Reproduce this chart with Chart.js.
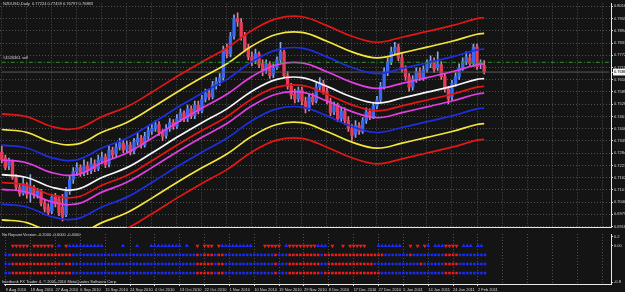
<!DOCTYPE html>
<html>
<head>
<meta charset="utf-8">
<script src="https://cdn.jsdelivr.net/npm/chart.js@4.4.1/dist/chart.umd.min.js"></script>
<style>
  html, body { margin: 0; padding: 0; background: #141414; overflow: hidden; }
  #wrap { position: relative; width: 625px; height: 292px; background: #141414; }
  canvas { position: absolute; left: 0; }
  #main { top: 0; }
  #ind  { top: 230px; }
  .t { position: absolute; font: 8px "Liberation Sans", Arial, sans-serif; color: #d4d4d4;
       white-space: nowrap; line-height: 1; transform: scale(0.5); transform-origin: 0 0; }
</style>
</head>
<body>
<div id="wrap">
  <canvas id="main" width="625" height="231"></canvas>
  <canvas id="ind" width="625" height="62"></canvas>
  <div class="t" style="left:3px;top:2px">NZDUSD,Daily&nbsp; 0.77224 0.77459 0.76797 0.76883</div>
  <div class="t" style="left:3px;top:56px">#4526361 sell</div>
  <div class="t" style="left:2px;top:233px">No Repaint Version -0.2000 -0.6000 -0.4000</div>
  <div class="t" style="left:2px;top:280px">Interbank FX Trader 4, © 2001-2010 MetaQuotes Software Corp.</div>
</div>
<script>
/* ── NZDUSD daily + envelope bands + signal panel ── */

/* x tick labels (every 7th bar) */
const dateTicks = ['9 Aug 2010','18 Aug 2010','27 Aug 2010','6 Sep 2010','15 Sep 2010','24 Sep 2010',
  '4 Oct 2010','13 Oct 2010','22 Oct 2010','1 Nov 2010','10 Nov 2010','19 Nov 2010','29 Nov 2010',
  '8 Dec 2010','17 Dec 2010','27 Dec 2010','5 Jan 2011','14 Jan 2011','24 Jan 2011','2 Feb 2011'];

/* price axis labels */
const priceTicks = [0.80160,0.79550,0.78940,0.78330,0.77720,0.77110,0.76500,0.75890,0.75280,0.74670,
  0.74060,0.73450,0.72840,0.72230,0.71620,0.71010,0.70400,0.69790,0.69180];
const indTicks = [0.2, 0, -0.8];
const indTickLabels = ['0.2', '0.00', '-0.8'];

const lastClose = 0.76883;
const sellPrice = 0.7737;

/* candles */
const openP = [
  0.7290,0.7260,0.7221,0.7241,0.7163,0.7114,0.7084,
  0.7128,0.7084,0.7114,0.7075,0.7094,0.7035,0.7016,
  0.6996,0.7065,0.7055,0.7016,0.6977,0.7094,0.7153,
  0.7192,0.7212,0.7187,0.7221,0.7197,0.7231,0.7207,
  0.7246,0.7265,0.7231,0.7300,0.7280,0.7314,0.7334,
  0.7300,0.7324,0.7295,0.7339,0.7358,0.7324,0.7368,
  0.7392,0.7407,0.7427,0.7388,0.7373,0.7407,0.7436,
  0.7417,0.7456,0.7485,0.7456,0.7505,0.7471,0.7524,
  0.7495,0.7554,0.7583,0.7564,0.7622,0.7642,0.7661,
  0.7798,0.7779,0.7867,0.7955,0.7935,0.7872,0.7808,
  0.7764,0.7745,0.7779,0.7730,0.7696,0.7730,0.7676,
  0.7710,0.7749,0.7789,0.7671,0.7617,0.7578,0.7554,
  0.7598,0.7544,0.7510,0.7564,0.7544,0.7613,0.7632,
  0.7593,0.7544,0.7490,0.7520,0.7456,0.7495,0.7446,
  0.7407,0.7378,0.7422,0.7392,0.7446,0.7490,0.7466,
  0.7520,0.7549,0.7617,0.7686,0.7740,0.7789,0.7813,
  0.7759,0.7701,0.7666,0.7613,0.7652,0.7691,0.7661,
  0.7701,0.7730,0.7745,0.7710,0.7725,0.7666,0.7603,
  0.7564,0.7632,0.7666,0.7710,0.7740,0.7759,0.7730,
  0.7813,0.7725,0.77224];
const highP = [
  0.7319,0.7275,0.7260,0.7251,0.7177,0.7133,0.7168,
  0.7138,0.7177,0.7124,0.7109,0.7104,0.7055,0.7031,
  0.7079,0.7084,0.7070,0.7079,0.7114,0.7172,0.7212,
  0.7236,0.7226,0.7251,0.7241,0.7260,0.7251,0.7275,
  0.7290,0.7280,0.7319,0.7314,0.7334,0.7358,0.7348,
  0.7344,0.7339,0.7358,0.7383,0.7373,0.7388,0.7417,
  0.7432,0.7446,0.7441,0.7402,0.7427,0.7456,0.7451,
  0.7476,0.7505,0.7495,0.7524,0.7520,0.7544,0.7544,
  0.7573,0.7603,0.7603,0.7642,0.7661,0.7681,0.7818,
  0.7828,0.7886,0.7974,0.7984,0.7955,0.7886,0.7828,
  0.7789,0.7803,0.7789,0.7749,0.7749,0.7740,0.7730,
  0.7764,0.7837,0.7798,0.7691,0.7632,0.7603,0.7613,
  0.7613,0.7564,0.7578,0.7583,0.7632,0.7661,0.7647,
  0.7608,0.7559,0.7539,0.7534,0.7510,0.7510,0.7466,
  0.7427,0.7446,0.7436,0.7461,0.7510,0.7505,0.7539,
  0.7568,0.7637,0.7710,0.7759,0.7813,0.7837,0.7828,
  0.7779,0.7720,0.7681,0.7671,0.7710,0.7710,0.7720,
  0.7749,0.7769,0.7759,0.7789,0.7740,0.7681,0.7617,
  0.7647,0.7686,0.7730,0.7759,0.7789,0.7779,0.7828,
  0.7828,0.7749,0.77459];
const lowP = [
  0.7236,0.7202,0.7202,0.7153,0.7099,0.7070,0.7075,
  0.7060,0.7040,0.7060,0.7060,0.7021,0.6991,0.6972,
  0.6982,0.7016,0.6972,0.6947,0.6967,0.7079,0.7133,
  0.7172,0.7168,0.7172,0.7177,0.7182,0.7192,0.7197,
  0.7231,0.7212,0.7216,0.7260,0.7265,0.7300,0.7285,
  0.7285,0.7275,0.7280,0.7324,0.7309,0.7314,0.7353,
  0.7378,0.7392,0.7373,0.7348,0.7358,0.7392,0.7402,
  0.7407,0.7441,0.7441,0.7441,0.7456,0.7456,0.7480,
  0.7485,0.7539,0.7549,0.7554,0.7603,0.7622,0.7647,
  0.7759,0.7764,0.7852,0.7916,0.7847,0.7789,0.7749,
  0.7720,0.7730,0.7710,0.7671,0.7681,0.7657,0.7661,
  0.7701,0.7735,0.7657,0.7603,0.7554,0.7534,0.7539,
  0.7524,0.7485,0.7495,0.7524,0.7534,0.7598,0.7578,
  0.7529,0.7471,0.7476,0.7441,0.7441,0.7427,0.7392,
  0.7348,0.7363,0.7378,0.7383,0.7432,0.7451,0.7456,
  0.7505,0.7539,0.7603,0.7671,0.7725,0.7774,0.7745,
  0.7686,0.7647,0.7593,0.7598,0.7637,0.7647,0.7647,
  0.7686,0.7710,0.7686,0.7696,0.7652,0.7588,0.7529,
  0.7549,0.7617,0.7652,0.7696,0.7725,0.7715,0.7715,
  0.7701,0.7705,0.76797];
const closeP = [
  0.7251,0.7212,0.7251,0.7163,0.7114,0.7084,0.7133,
  0.7079,0.7114,0.7075,0.7094,0.7035,0.7006,0.6987,
  0.7065,0.7031,0.6987,0.6967,0.7094,0.7153,0.7192,
  0.7212,0.7187,0.7221,0.7197,0.7231,0.7207,0.7251,
  0.7265,0.7226,0.7300,0.7275,0.7314,0.7334,0.7300,
  0.7324,0.7290,0.7339,0.7358,0.7324,0.7368,0.7397,
  0.7407,0.7427,0.7388,0.7368,0.7407,0.7436,0.7417,
  0.7456,0.7485,0.7456,0.7505,0.7471,0.7524,0.7495,
  0.7554,0.7583,0.7564,0.7622,0.7642,0.7661,0.7798,
  0.7779,0.7867,0.7955,0.7940,0.7862,0.7798,0.7764,
  0.7740,0.7779,0.7725,0.7691,0.7730,0.7671,0.7710,
  0.7749,0.7789,0.7671,0.7617,0.7573,0.7554,0.7598,
  0.7544,0.7505,0.7564,0.7539,0.7613,0.7637,0.7593,
  0.7544,0.7485,0.7520,0.7456,0.7495,0.7446,0.7407,
  0.7373,0.7422,0.7392,0.7446,0.7490,0.7466,0.7520,
  0.7549,0.7617,0.7691,0.7740,0.7789,0.7813,0.7759,
  0.7701,0.7666,0.7613,0.7652,0.7691,0.7661,0.7701,
  0.7730,0.7745,0.7701,0.7730,0.7666,0.7603,0.7554,
  0.7632,0.7666,0.7710,0.7740,0.7764,0.7730,0.7813,
  0.7715,0.7735,0.76883];

/* envelope bands, read at every 7th bar */
const bandBars = [0,7,14,21,28,35,42,49,56,63,70,77,84,91,98,105,112,119,126,133,135];
const redUp    = [0.7480,0.7466,0.7417,0.7407,0.7466,0.7515,0.7588,0.7666,0.7739,0.7808,0.7896,0.7955,0.7964,0.7920,0.7867,0.7837,0.7862,0.7891,0.7920,0.7955,0.7959];
const yellowUp = [0.7402,0.7388,0.7339,0.7329,0.7388,0.7437,0.7510,0.7588,0.7661,0.7730,0.7818,0.7877,0.7886,0.7842,0.7789,0.7759,0.7784,0.7813,0.7842,0.7877,0.7881];
const blueUp   = [0.7324,0.7310,0.7261,0.7251,0.7310,0.7359,0.7432,0.7510,0.7583,0.7652,0.7740,0.7799,0.7808,0.7764,0.7711,0.7681,0.7706,0.7735,0.7764,0.7799,0.7803];
const magUp    = [0.7250,0.7236,0.7187,0.7177,0.7236,0.7285,0.7358,0.7436,0.7509,0.7578,0.7666,0.7725,0.7734,0.7690,0.7637,0.7607,0.7632,0.7661,0.7690,0.7725,0.7729];
const midLine  = [0.7177,0.7163,0.7114,0.7104,0.7163,0.7212,0.7285,0.7363,0.7436,0.7505,0.7593,0.7652,0.7661,0.7617,0.7564,0.7534,0.7559,0.7588,0.7617,0.7652,0.7656];
const redIn    = [0.7138,0.7124,0.7075,0.7065,0.7124,0.7173,0.7246,0.7324,0.7397,0.7466,0.7554,0.7613,0.7622,0.7578,0.7525,0.7495,0.7520,0.7549,0.7578,0.7613,0.7617];
const magLo    = [0.7104,0.7090,0.7041,0.7031,0.7090,0.7139,0.7212,0.7290,0.7363,0.7432,0.7520,0.7579,0.7588,0.7544,0.7491,0.7461,0.7486,0.7515,0.7544,0.7579,0.7583];
const blueLo   = [0.7030,0.7016,0.6967,0.6957,0.7016,0.7065,0.7138,0.7216,0.7289,0.7358,0.7446,0.7505,0.7514,0.7470,0.7417,0.7387,0.7412,0.7441,0.7470,0.7505,0.7509];
const yellowLo = [0.6952,0.6938,0.6889,0.6879,0.6938,0.6987,0.7060,0.7138,0.7211,0.7280,0.7368,0.7427,0.7436,0.7392,0.7339,0.7309,0.7334,0.7363,0.7392,0.7427,0.7431];
const redLo    = [0.6874,0.6860,0.6811,0.6801,0.6860,0.6909,0.6982,0.7060,0.7133,0.7202,0.7290,0.7349,0.7358,0.7314,0.7261,0.7231,0.7256,0.7285,0.7314,0.7349,0.7353];

/* signal panel: runs of [count, code]  R = red, B = blue, . = none */
const sigArrows = [[2,'.'],[5,'R'],[1,'.'],[6,'R'],[1,'.'],[1,'B'],[1,'.'],[1,'R'],[10,'B'],[5,'.'],[1,'B'],[3,'.'],
  [1,'B'],[3,'.'],[9,'B'],[1,'.'],[1,'B'],[2,'.'],[1,'R'],[1,'.'],[3,'R'],[1,'.'],[1,'R'],[9,'B'],[3,'.'],[5,'R'],
  [1,'.'],[1,'B'],[8,'R'],[3,'B'],[1,'.'],[1,'R'],[2,'.'],[1,'R'],[1,'.'],[5,'R'],[3,'.'],[7,'B'],[2,'.'],[1,'R'],
  [1,'.'],[1,'R'],[1,'.'],[1,'R'],[1,'B'],[1,'.'],[3,'B'],[4,'R'],[1,'.'],[3,'B'],[1,'.'],[2,'B'],[1,'.']];
const sigRow1 = [[2,'B'],[17,'R'],[35,'B'],[1,'R'],[1,'B'],[3,'R'],[1,'B'],[2,'R'],[14,'B'],[1,'R'],[3,'B'],[9,'R'],
  [1,'B'],[17,'R'],[7,'B'],[1,'R'],[9,'B'],[4,'R'],[8,'B']];
const sigRow2 = [[2,'B'],[14,'R'],[1,'B'],[2,'R'],[35,'B'],[5,'R'],[1,'B'],[2,'R'],[14,'B'],[1,'R'],[3,'B'],[9,'R'],
  [2,'B'],[13,'R'],[13,'B'],[1,'R'],[6,'B'],[4,'R'],[8,'B']];
const sigRow3 = [[2,'B'],[17,'R'],[35,'B'],[5,'R'],[1,'B'],[2,'R'],[14,'B'],[1,'R'],[3,'B'],[9,'R'],[1,'B'],[16,'R'],
  [18,'B'],[4,'R'],[8,'B']];

/* ─── setup ─── */
Chart.defaults.font.family = '"Liberation Sans", Arial, sans-serif';
Chart.defaults.font.size = 4;
Chart.defaults.color = '#d4d4d4';

const SLOTS = 171;                                 // bar slots across the window
const keys  = Array.from({length: SLOTS}, (_, i) => 'b' + i);
const gridC = '#505050';
const sigRed = '#f01c1c', sigBlue = '#1c2cf0';
const upBody = '#3a68f2', dnBody = '#e63c58', upWick = '#86a8e6', dnWick = '#e87a90';

const expand = rle => rle.flatMap(([n, c]) => Array(n).fill(c));
const isUp = i => closeP[i] >= openP[i];
const vGrid = c => (c.index % 7 === 0 ? gridC : 'transparent');

const bands = [
  [redUp, '#e51616'], [yellowUp, '#f4e63c'], [blueUp, '#1e2ee2'], [magUp, '#e43ee4'], [midLine, '#f6f6f6'],
  [redIn, '#e51616'], [magLo, '#e43ee4'], [blueLo, '#1e2ee2'], [yellowLo, '#f4e63c'], [redLo, '#e51616']
].map(([arr, col]) => ({
  type: 'line',
  data: bandBars.map((b, k) => ({ x: keys[b], y: arr[k] })),
  borderColor: col, borderWidth: 1.7, pointRadius: 0, tension: 0.4, order: 1
}));

const hLine = (y, col, dash, order) => ({
  type: 'line',
  data: [{ x: keys[0], y }, { x: keys[SLOTS - 1], y }],
  borderColor: col, borderWidth: 1, borderDash: dash, pointRadius: 0, order
});

/* 1. price panel */
new Chart(document.getElementById('main'), {
  type: 'bar',
  data: {
    labels: keys,
    datasets: [
      ...bands,
      hLine(sellPrice, '#2e9430', [4, 2, 1, 2], 0),
      hLine(lastClose, '#5a5a5a', [], 3),
      { type: 'bar', data: lowP.map((l, i) => [l, highP[i]]),
        backgroundColor: lowP.map((_, i) => isUp(i) ? upWick : dnWick),
        barThickness: 1, grouped: false, order: 6 },
      { type: 'bar', data: openP.map((o, i) => [o, closeP[i]]),
        backgroundColor: openP.map((_, i) => isUp(i) ? upBody : dnBody),
        barThickness: 2.7, minBarLength: 1, grouped: false, order: 5 }
    ]
  },
  options: {
    responsive: false, animation: false, events: [],
    layout: { padding: { top: 1, bottom: 1, left: 0, right: 0 } },
    plugins: { legend: { display: false }, tooltip: { enabled: false } },
    scales: {
      x: {
        offset: true,
        afterFit: s => { s.height = 0; },
        ticks: { display: false },
        grid: { offset: false, color: vGrid, drawTicks: false },
        border: { display: true, color: '#e8e8e8', dash: [1, 2] }
      },
      y: {
        position: 'right', min: 0.69131, max: 0.80306,
        afterFit: s => { s.width = 14; },
        afterBuildTicks: s => { s.ticks = [...priceTicks, lastClose].sort((a, b) => a - b).map(v => ({ value: v })); },
        ticks: {
          autoSkip: false, padding: 1,
          callback: v => v.toFixed(5),
          color: c => (c.tick && c.tick.value === lastClose ? '#000000' : '#d4d4d4'),
          showLabelBackdrop: c => !!(c.tick && c.tick.value === lastClose),
          backdropColor: '#f4f4f4', backdropPadding: 1
        },
        grid: {
          color: c => (c.tick && c.tick.value === lastClose ? 'transparent' : gridC),
          tickColor: '#d4d4d4', tickLength: 2
        },
        border: { display: true, color: '#e8e8e8', dash: [1, 2] }
      }
    }
  }
});

/* 2. signal panel */
const arrowCodes = expand(sigArrows);
const rowSets = [[sigRow1, -0.2], [sigRow2, -0.4], [sigRow3, -0.6]].map(([rle, lvl]) => {
  const codes = expand(rle);
  return {
    data: codes.map(() => lvl), showLine: false,
    pointStyle: 'rect', pointRadius: 1.8, pointBorderWidth: 0,
    pointBackgroundColor: codes.map(c => (c === 'R' ? sigRed : sigBlue))
  };
});

new Chart(document.getElementById('ind'), {
  type: 'line',
  data: {
    labels: keys,
    datasets: [
      { data: arrowCodes.map(c => (c === '.' ? null : 0)), showLine: false,
        pointStyle: 'triangle', pointRadius: 2.3, pointBorderWidth: 0,
        pointRotation: arrowCodes.map(c => (c === 'R' ? 180 : 0)),
        pointBackgroundColor: arrowCodes.map(c => (c === 'R' ? sigRed : sigBlue)) },
      ...rowSets
    ]
  },
  options: {
    responsive: false, animation: false, events: [],
    layout: { padding: { top: 1, bottom: 0, left: 0, right: 0 } },
    plugins: { legend: { display: false }, tooltip: { enabled: false } },
    scales: {
      x: {
        offset: true,
        afterFit: s => { s.height = 8; },
        ticks: {
          autoSkip: false, maxRotation: 0, minRotation: 0, align: 'start', padding: 1,
          callback: (v, i) => (i % 7 === 0 && dateTicks[i / 7] ? dateTicks[i / 7] : '')
        },
        grid: { offset: false, color: vGrid, tickLength: 2,
          tickColor: c => (c.index % 7 === 0 && c.index / 7 < dateTicks.length ? '#d4d4d4' : 'transparent') },
        border: { display: true, color: '#e8e8e8', dash: [1, 2] }
      },
      y: {
        position: 'right', min: -0.842, max: 0.2625,
        afterFit: s => { s.width = 14; },
        afterBuildTicks: s => { s.ticks = indTicks.map(v => ({ value: v })); },
        ticks: { autoSkip: false, padding: 1, callback: v => indTickLabels[indTicks.indexOf(v)] },
        grid: { color: 'transparent', tickColor: '#d4d4d4', tickLength: 2 },
        border: { display: true, color: '#e8e8e8' }
      }
    }
  }
});
</script>
</body>
</html>
